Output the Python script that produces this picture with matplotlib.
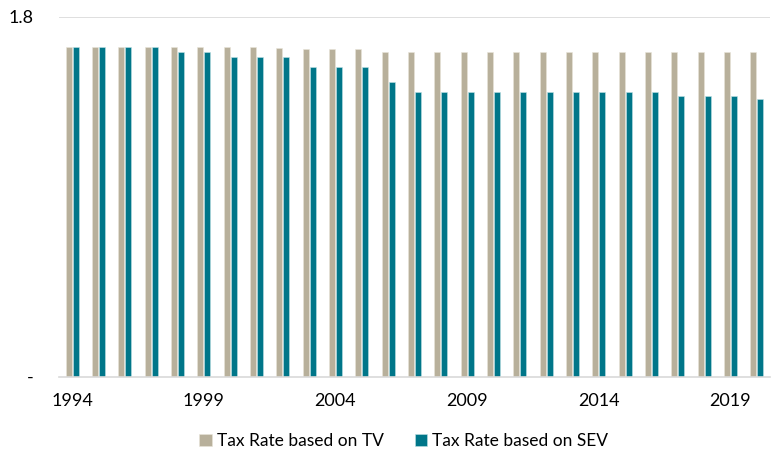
import numpy as np
import matplotlib
matplotlib.use('Agg')
import matplotlib.pyplot as plt

plt.rcParams['font.family'] = ['Lato', 'DejaVu Sans']

years = list(range(1994, 2021))
tv_rate = [1.65, 1.65, 1.65, 1.65, 1.65, 1.65, 1.65, 1.65, 1.645, 1.638, 1.638, 1.638, 1.623, 1.623,
           1.623, 1.623, 1.623, 1.623, 1.623, 1.623, 1.623, 1.623, 1.623, 1.623, 1.623, 1.623, 1.623]
sev_rate = [1.65, 1.65, 1.65, 1.65, 1.625, 1.625, 1.598, 1.598, 1.598, 1.55, 1.55, 1.55, 1.474, 1.424,
            1.424, 1.424, 1.424, 1.424, 1.424, 1.424, 1.424, 1.424, 1.424, 1.403, 1.403, 1.403, 1.389]
tick_years = [1994, 1999, 2004, 2009, 2014, 2019]

tv_color = '#B8B09B'
sev_color = '#007689'

fig = plt.figure(figsize=(7.75, 4.53), dpi=100)
ax = fig.add_axes([59 / 775, 1 - 376.5 / 453, (770 - 59) / 775, (376.5 - 16.7) / 453])

x = np.arange(len(years))
w = 0.225
ax.bar(x - 0.135, tv_rate, w, color=tv_color, edgecolor='#E8E4DA', linewidth=0.4, label='Tax Rate based on TV')
ax.bar(x + 0.135, sev_rate, w, color=sev_color, edgecolor='#BFE0E4', linewidth=0.4, label='Tax Rate based on SEV')

ax.set_xlim(-0.5, len(years) - 0.5)
ax.set_ylim(0, 1.8)
ax.set_yticks([0, 1.8])
ax.set_yticklabels(['-', '1.8'])
ax.set_xticks([years.index(y) for y in tick_years])
ax.set_xticklabels([str(y) for y in tick_years])
ax.axhline(1.8, color='#D9D9D9', linewidth=1.2, zorder=0)

for s in ['top', 'right', 'left']:
    ax.spines[s].set_visible(False)
ax.spines['bottom'].set_color('#D9D9D9')
ax.spines['bottom'].set_linewidth(1.2)
ax.tick_params(axis='both', length=0, labelsize=13, colors='black')
ax.tick_params(axis='x', pad=12)
ax.tick_params(axis='y', pad=18)

ax.legend(loc='upper center', bbox_to_anchor=(0.485, -0.158), ncol=2, frameon=False, fontsize=12.5,
          handlelength=0.7, handleheight=0.7, handletextpad=0.3, columnspacing=1.8,
          borderaxespad=0, borderpad=0)

fig.savefig('out.png', dpi=100)
